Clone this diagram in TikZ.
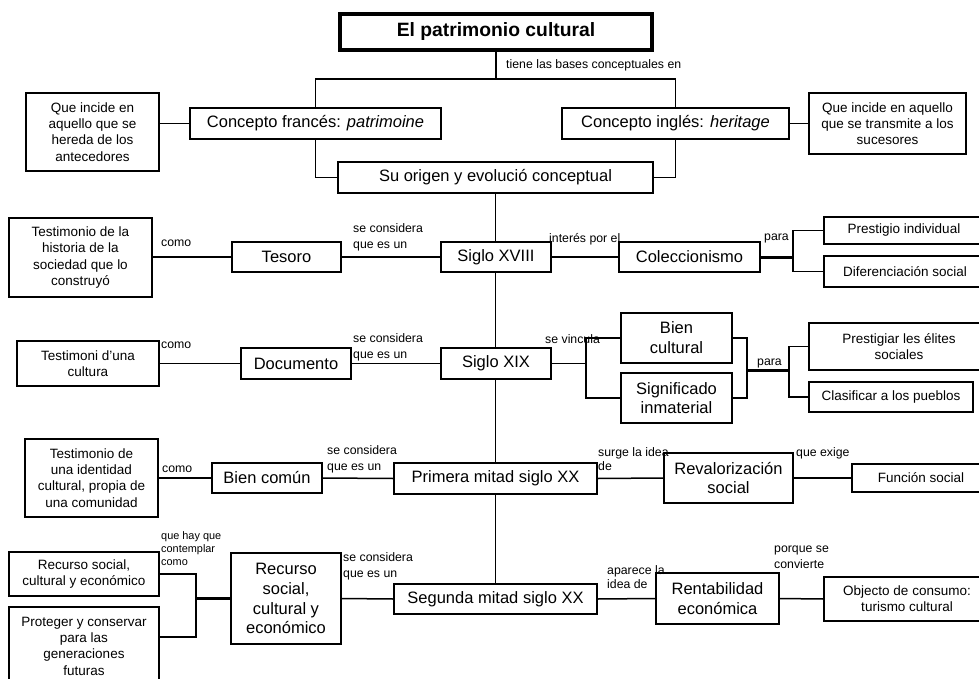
\documentclass[tikz,border=0pt]{standalone}
\usepackage{fontspec}
\setmainfont{Liberation Sans}
\usetikzlibrary{backgrounds}
\newcommand\fmain{\fontsize{16.5}{19.8}\selectfont}
\newcommand\fsec{\fontsize{13.5}{16.3}\selectfont}
\newcommand\flab{\fontsize{12.3}{15.2}\selectfont}
\newcommand\flabt{\fontsize{12.3}{13.3}\selectfont}
\newcommand\fsmall{\fontsize{10.9}{12.6}\selectfont}
\newcommand\ftitle{\fontsize{19.3}{22}\selectfont\bfseries}
\begin{document}
\begin{tikzpicture}[x=1pt,y=-1pt,
  box/.style={draw, line width=1.4pt, fill=white, inner sep=0pt, align=center},
  mbox/.style={box, font=\fmain},
  sbox/.style={box, font=\fsec},
  lab/.style={inner sep=0pt, anchor=base west, align=left, font=\flab},
  conn/.style={line width=1.5pt},
  thickconn/.style={line width=3pt}]
\useasboundingbox (0,0) rectangle (979,679);
\clip (0,0) rectangle (979,679);

% title and concepts
\node[box, line width=4pt, minimum width=312pt, minimum height=36pt, font=\ftitle] (title) at (496,32) {El patrimonio cultural};
\node[mbox, minimum width=251pt, minimum height=31pt] (frances) at (315.5,123.5) {Concepto francés: \textit{patrimoine}};
\node[sbox, minimum width=133pt, minimum height=78pt] (queL) at (92.5,132) {Que incide en\\aquello que se\\hereda de los\\antecedores};
\node[mbox, minimum width=227pt, minimum height=31pt] (ingles) at (675.5,123.5) {Concepto inglés: \textit{heritage}};
\node[sbox, minimum width=157pt, minimum height=61pt] (queR) at (887.5,123.5) {Que incide en aquello\\que se transmite a los\\sucesores};
\node[mbox, minimum width=315pt, minimum height=31pt] (origen) at (495.5,177.5) {Su origen y evolució conceptual};

% Siglo XVIII
\node[mbox, minimum width=110pt, minimum height=30pt] (s18) at (496,257) {Siglo XVIII};
\node[mbox, minimum width=109pt, minimum height=30pt] (tesoro) at (286.5,257) {Tesoro};
\node[sbox, minimum width=143pt, minimum height=79pt] (testH) at (80.5,257.5) {Testimonio de la\\historia de la\\sociedad que lo\\construyó};
\node[mbox, minimum width=141pt, minimum height=30pt] (colec) at (689.5,257) {Coleccionismo};
\node[sbox, minimum width=160pt, minimum height=27pt] (prestI) at (904,230.5) {Prestigio individual};
\node[sbox, minimum width=162pt, minimum height=31pt] (difer) at (905,271.5) {Diferenciación social};

% Siglo XIX
\node[mbox, minimum width=110pt, minimum height=31pt] (s19) at (496,363.5) {Siglo XIX};
\node[mbox, minimum width=110pt, minimum height=31pt] (docu) at (296,363.5) {Documento};
\node[sbox, minimum width=142pt, minimum height=45pt] (testC) at (88,363.5) {Testimoni d’una\\cultura};
\node[mbox, minimum width=111pt, minimum height=50pt] (bienc) at (676.5,338) {Bien\\cultural};
\node[mbox, minimum width=111pt, minimum height=50pt] (signif) at (676.5,398) {Significado\\inmaterial};
\node[sbox, minimum width=180pt, minimum height=47pt] (prestE) at (899,346.5) {Prestigiar les élites\\sociales};
\node[sbox, minimum width=164pt, minimum height=30pt] (clasif) at (891,397) {Clasificar a los pueblos};

% Primera mitad
\node[mbox, minimum width=203pt, minimum height=31pt] (primera) at (495.5,478.5) {Primera mitad siglo XX};
\node[mbox, minimum width=110pt, minimum height=30pt] (biencom) at (267,478) {Bien común};
\node[sbox, minimum width=133pt, minimum height=78pt] (testI) at (91.5,478) {Testimonio de\\una identidad\\cultural, propia de\\una comunidad};
\node[mbox, minimum width=129pt, minimum height=50pt] (revalor) at (728.5,478) {Revalorización\\social};
\node[sbox, minimum width=138pt, minimum height=28pt] (funcion) at (921,478) {Función social};

% Segunda mitad
\node[mbox, minimum width=203pt, minimum height=30pt] (segunda) at (495.5,599) {Segunda mitad siglo XX};
\node[mbox, minimum width=110pt, minimum height=91pt] (recursoC) at (286,598.5) {Recurso\\social,\\cultural y\\económico};
\node[sbox, minimum width=150pt, minimum height=44pt] (recursoL) at (84,574) {Recurso social,\\cultural y económico};
\node[sbox, minimum width=150pt, minimum height=78pt] (proteger) at (84,646) {Proteger y conservar\\para las\\generaciones\\futuras};
\node[mbox, minimum width=123pt, minimum height=51pt] (rentab) at (717.5,598.5) {Rentabilidad\\económica};
\node[sbox, minimum width=166pt, minimum height=44pt] (objecto) at (907,599) {Objecto de consumo:\\turismo cultural};

% labels (anchor = baseline of the last line)
\node[lab] (l1) at (506,69) {tiene las bases conceptuales en};
\node[lab] (l2) at (161,246) {como};
\node[lab] (l3) at (353,248) {se considera\\que es un};
\node[lab] (l4) at (549,242) {interés por el};
\node[lab] (l5) at (764,240) {para};
\node[lab] (l6) at (161,348) {como};
\node[lab] (l7) at (353,358) {se considera\\que es un};
\node[lab] (l8) at (545,343) {se vincula};
\node[lab] (l9) at (757,365) {para};
\node[lab] (l10) at (162,472) {como};
\node[lab] (l11) at (327,470) {se considera\\que es un};
\node[lab, font=\flabt] (l12) at (598,470) {surge la idea\\de};
\node[lab] (l13) at (796,456) {que exige};
\node[lab, font=\fsmall] (l14) at (161,565) {que hay que\\contemplar\\como};
\node[lab] (l15) at (343,577) {se considera\\que es un};
\node[lab, font=\flabt] (l16) at (607,588) {aparece la\\idea de};
\node[lab] (l17) at (774,568) {porque se\\convierte};

\begin{scope}[on background layer]
\fill[white] (0,0) rectangle (979,679);
\coordinate (top) at (495.5,79);
\draw[conn] (title.south) -- (title.south |- top);
\draw[conn] (frances.north) |- (top) -| (ingles.north);
\draw[conn] (frances.south) |- (origen.west);
\draw[conn] (ingles.south) |- (origen.east);
\draw[conn] (queL.east |- frances.west) -- (frances.west);
\draw[conn] (ingles.east) -- (queR.west);
\draw[conn] (origen.south) -- (segunda.north);
% XVIII
\draw[conn] (testH.east |- tesoro.west) -- (tesoro.west);
\draw[conn] (tesoro.east) -- (s18.west);
\draw[conn] (s18.east) -- (colec.west);
\coordinate (jc18) at (793,257);
\draw[thickconn] (colec.east) -- (jc18);
\draw[conn] (prestI.west) -| (jc18) |- (difer.west);
% XIX
\draw[conn] (testC.east) -- (docu.west);
\draw[conn] (docu.east) -- (s19.west);
\coordinate (j19) at (586,363.5);
\draw[conn] (s19.east) -- (j19);
\draw[conn] (bienc.west) -| (j19) |- (signif.west);
\coordinate (jbr) at (747,370);
\coordinate (jpara) at (789,370);
\draw[conn] (bienc.east) -| (jbr) |- (signif.east);
\draw[thickconn] (jbr) -- (jpara);
\draw[conn] (prestE.west) -| (jpara) |- (clasif.west);
% Primera
\draw[conn] (testI.east) -- (biencom.west);
\draw[conn] (biencom.east) -- (primera.west);
\draw[conn] (primera.east) -- (revalor.west);
\draw[conn] (revalor.east) -- (funcion.west);
% Segunda
\draw[conn] (segunda.west) -- (recursoC.east);
\coordinate (jr) at (196,598.5);
\draw[thickconn] (recursoC.west) -- (jr);
\draw[conn] (recursoL.east) -| (jr) |- ([yshift=9pt]proteger.east);
\draw[conn] (segunda.east) -- (rentab.west);
\draw[conn] (rentab.east) -- (objecto.west);
\end{scope}
\end{tikzpicture}
\end{document}
